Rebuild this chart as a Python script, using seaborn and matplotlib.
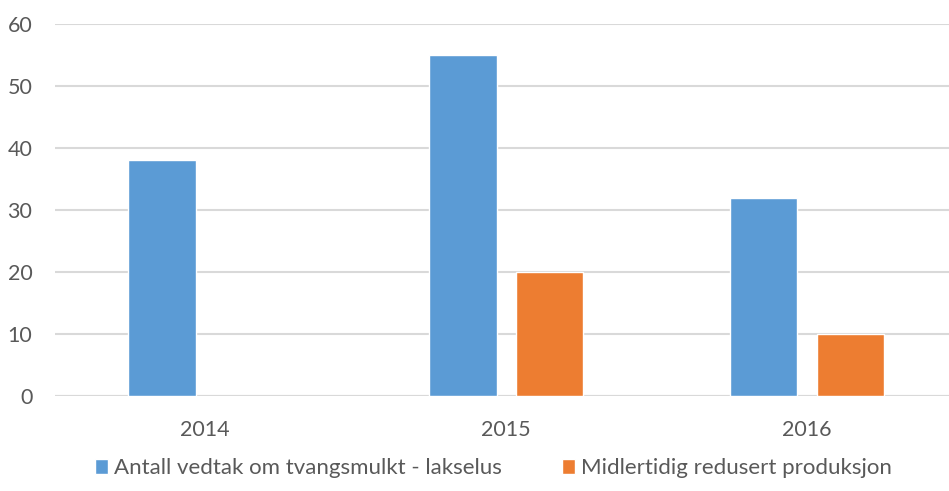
import numpy as np
import pandas as pd
import seaborn as sns
from matplotlib import pyplot as plt

years = ["2014", "2015", "2016"]
series_names = ["Antall vedtak om tvangsmulkt - lakselus", "Midlertidig redusert produksjon"]
tvangsmulkt = [38, 55, 32]
redusert = [np.nan, 20, 10]
colors = ["#5b9bd5", "#ed7d31"]


def main():
    df = pd.DataFrame({
        "year": years * 2,
        "series": [series_names[0]] * 3 + [series_names[1]] * 3,
        "value": tvangsmulkt + redusert,
    })

    sns.set_style("white")
    plt.rcParams["font.family"] = ["Lato", "DejaVu Sans"]

    fig = plt.figure(figsize=(9.49, 4.91), dpi=100)
    ax = fig.add_axes([0.0575, 0.1935, 0.9515, 0.7575])

    sns.barplot(data=df, x="year", y="value", hue="series", palette=colors,
                width=0.577, gap=0.22, ax=ax, legend=True, saturation=1)

    ax.set_ylim(0, 60)
    ax.set_yticks(range(0, 61, 10))
    ax.set_xlim(-0.5, 2.5)
    ax.yaxis.grid(True, color="#d9d9d9", linewidth=1.5)
    ax.set_axisbelow(True)
    for s in ax.spines.values():
        s.set_visible(False)
    ax.axhline(0, color="#d9d9d9", linewidth=1.5, zorder=0)
    ax.set_xlabel("")
    ax.set_ylabel("")
    ax.tick_params(axis="both", length=0, labelsize=15.5, labelcolor="#595959")
    ax.tick_params(axis="x", pad=17)
    ax.tick_params(axis="y", pad=16)

    handles, labels = ax.get_legend_handles_labels()
    ax.get_legend().remove()
    fig.legend(handles, labels, loc="lower center", ncol=2, frameon=False,
               bbox_to_anchor=(0.52, -0.015), fontsize=16, handlelength=0.6,
               handleheight=0.6, handletextpad=0.27, columnspacing=2.7,
               labelcolor="#595959")

    plt.savefig("out.png", dpi=100)
    plt.close()


if __name__ == "__main__":
    main()
